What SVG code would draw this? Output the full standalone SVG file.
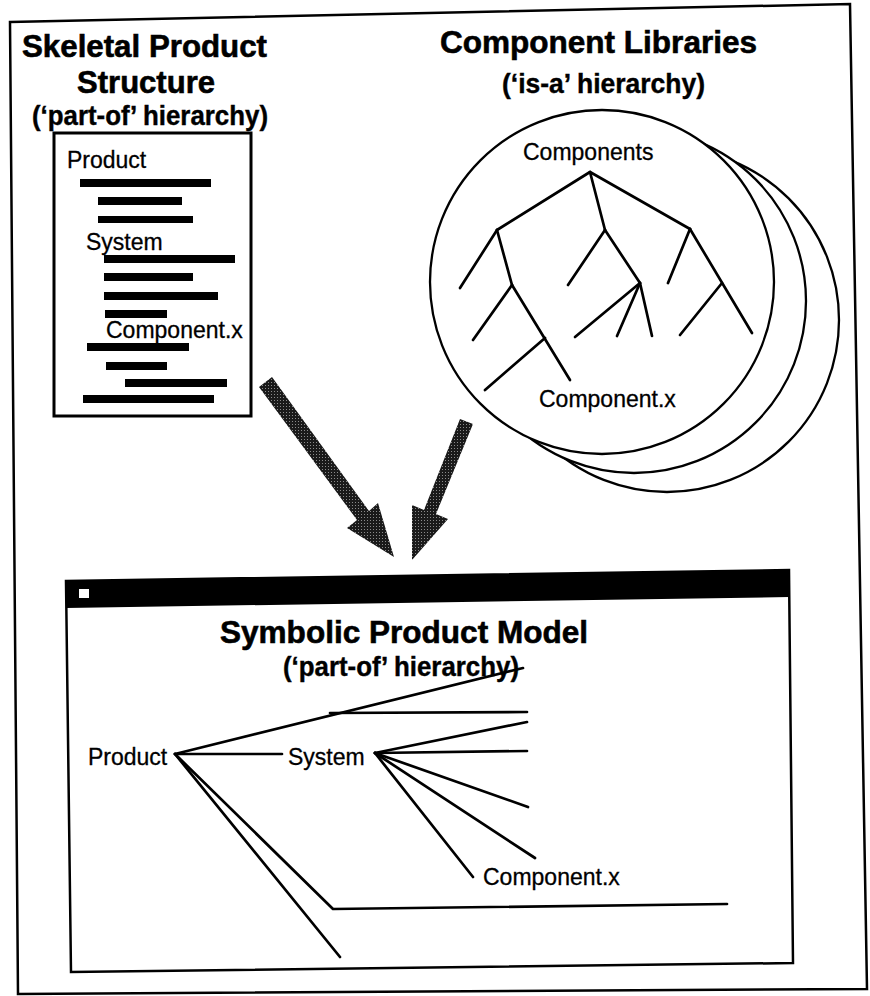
<svg xmlns="http://www.w3.org/2000/svg" width="870" height="996" viewBox="0 0 870 996">
  <defs>
    <style>
      .frame { fill: none; stroke: #000; stroke-width: 2.5; stroke-linejoin: miter; }
      .ln { fill: none; stroke: #000; stroke-width: 2.7; stroke-linecap: round; stroke-linejoin: round; }
      .ring { fill: #fff; stroke: #000; stroke-width: 2.3; }
      .bar { fill: #000; }
      .hd { font-family: "Liberation Sans", Arial, sans-serif; font-weight: bold; font-size: 32px; fill: #000; stroke: #000; stroke-width: 0.6; }
      .sub { font-family: "Liberation Sans", Arial, sans-serif; font-weight: bold; font-size: 27px; fill: #000; stroke: #000; stroke-width: 0.4; }
      .lbl { font-family: "Liberation Sans", Arial, sans-serif; font-size: 23px; fill: #000; stroke: #000; stroke-width: 0.3; }
    </style>
    <!-- stippled halftone fill for the big arrows -->
    <pattern id="stipple" width="3" height="3" patternUnits="userSpaceOnUse">
      <rect width="3" height="3" fill="#1a1a1a"/>
      <rect x="1" y="1" width="1" height="1" fill="#8a8a8a"/>
    </pattern>
  </defs>

  <rect width="870" height="996" fill="#fff"/>

  <!-- page border -->
  <polygon id="page" class="frame" points="10,22 850,4 867,989 18,994"/>

  <!-- skeletal product structure -->
  <g id="skeletal">
    <text class="hd" x="22" y="57" textLength="245" lengthAdjust="spacingAndGlyphs">Skeletal Product</text>
    <text class="hd" x="77" y="93" textLength="138" lengthAdjust="spacingAndGlyphs">Structure</text>
    <text class="sub" x="32" y="125" textLength="236" lengthAdjust="spacingAndGlyphs">(‘part-of’ hierarchy)</text>
    <rect x="54" y="133" width="197" height="283" fill="#fff" stroke="#000" stroke-width="3"/>
    <text class="lbl" x="67" y="168">Product</text>
    <rect class="bar" x="80" y="179" width="131" height="8"/>
    <rect class="bar" x="98" y="197" width="84" height="8"/>
    <rect class="bar" x="98" y="216" width="95" height="7"/>
    <text class="lbl" x="86" y="250">System</text>
    <rect class="bar" x="104" y="255" width="131" height="8"/>
    <rect class="bar" x="104" y="273" width="89" height="8"/>
    <rect class="bar" x="104" y="292" width="114" height="8"/>
    <rect class="bar" x="105" y="310" width="62" height="8"/>
    <text class="lbl" x="106" y="338">Component.x</text>
    <rect class="bar" x="87" y="343" width="102" height="8"/>
    <rect class="bar" x="106" y="362" width="61" height="8"/>
    <rect class="bar" x="125" y="379" width="102" height="8"/>
    <rect class="bar" x="83" y="395" width="131" height="8"/>
  </g>

  <!-- component libraries -->
  <g id="libraries">
    <text class="hd" x="440" y="53" textLength="317" lengthAdjust="spacingAndGlyphs">Component Libraries</text>
    <text class="sub" x="502" y="93" textLength="203" lengthAdjust="spacingAndGlyphs">(‘is-a’ hierarchy)</text>
    <circle class="ring" cx="667" cy="320" r="172"/>
    <circle class="ring" cx="634" cy="301" r="172"/>
    <circle class="ring" cx="602" cy="282" r="172"/>
    <text class="lbl" x="523" y="160">Components</text>
    <g class="ln">
      <polyline points="497,230 590,172 690,229"/>
      <line x1="590" y1="172" x2="605" y2="230"/>
      <line x1="497" y1="230" x2="460" y2="288"/>
      <line x1="497" y1="230" x2="512" y2="285"/>
      <line x1="512" y1="285" x2="473" y2="340"/>
      <line x1="512" y1="285" x2="570" y2="380"/>
      <line x1="545" y1="338" x2="485" y2="390"/>
      <line x1="605" y1="230" x2="568" y2="285"/>
      <line x1="605" y1="230" x2="640" y2="283"/>
      <line x1="640" y1="283" x2="575" y2="337"/>
      <line x1="640" y1="283" x2="617" y2="336"/>
      <line x1="640" y1="283" x2="652" y2="336"/>
      <line x1="690" y1="229" x2="668" y2="283"/>
      <line x1="690" y1="229" x2="752" y2="333"/>
      <line x1="722" y1="283" x2="680" y2="335"/>
    </g>
    <text class="lbl" x="539" y="407">Component.x</text>
  </g>

  <!-- merge arrows -->
  <g id="connectors" fill="url(#stipple)">
    <polygon points="272,377 369,511 378,503 394,557 347,528 357,520 259,387"/>
    <polygon points="473,424 436,514 448,519 412,560 412,505 424,510 460,419"/>
  </g>

  <!-- symbolic product model window -->
  <g id="model">
    <polygon class="frame" points="66,581 789,570 793,963 71,972" fill="#fff"/>
    <polygon class="bar" points="66,581 789,570 789,597 66,608"/>
    <rect x="79" y="589" width="10" height="9" fill="#fff"/>
    <text class="hd" x="220" y="643" textLength="368" lengthAdjust="spacingAndGlyphs">Symbolic Product Model</text>
    <text class="sub" x="283" y="676" textLength="236" lengthAdjust="spacingAndGlyphs">(‘part-of’ hierarchy)</text>
    <text class="lbl" x="88" y="765">Product</text>
    <text class="lbl" x="288" y="765">System</text>
    <text class="lbl" x="483" y="885">Component.x</text>
    <g class="ln">
      <line x1="175" y1="754" x2="523" y2="668"/>
      <line x1="330" y1="713" x2="527" y2="712"/>
      <line x1="175" y1="754" x2="282" y2="754"/>
      <polyline points="175,754 333,909 727,904"/>
      <line x1="175" y1="754" x2="340" y2="957"/>
      <line x1="375" y1="753" x2="527" y2="722"/>
      <line x1="375" y1="753" x2="527" y2="751"/>
      <line x1="375" y1="753" x2="528" y2="807"/>
      <line x1="375" y1="753" x2="535" y2="858"/>
      <line x1="375" y1="753" x2="473" y2="877"/>
    </g>
  </g>
</svg>
